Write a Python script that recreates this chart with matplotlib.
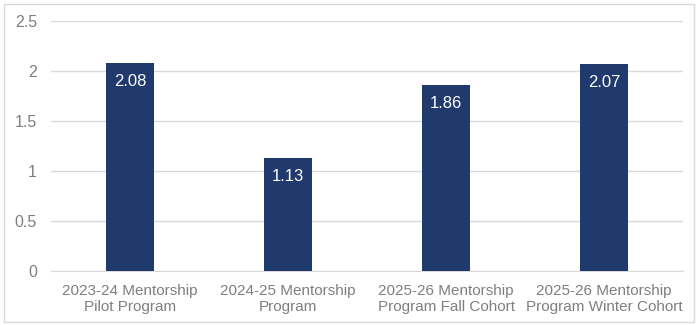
import matplotlib.pyplot as plt
from matplotlib.patches import Rectangle

categories = ["2023-24 Mentorship\nPilot Program",
              "2024-25 Mentorship\nProgram",
              "2025-26 Mentorship\nProgram Fall Cohort",
              "2025-26 Mentorship\nProgram Winter Cohort"]
values = [2.08, 1.13, 1.86, 2.07]
yticks = [0, 0.5, 1, 1.5, 2, 2.5]
ytick_labels = ["0", "0.5", "1", "1.5", "2", "2.5"]

plt.rcParams['font.family'] = ['Liberation Sans', 'DejaVu Sans']

fig = plt.figure(figsize=(6.99, 3.25), dpi=100)
ax = fig.add_axes([51 / 699, 54 / 325, 632 / 699, 250 / 325])

x = range(len(values))
bars = ax.bar(x, values, width=0.31, color="#213a6e", zorder=3)

for i, v in enumerate(values):
    ax.annotate(f"{v:.2f}", (i, v), xytext=(0, -13), textcoords="offset points",
                ha="center", va="center", color="white", fontsize=12, zorder=4)

ax.set_xlim(-0.5, len(values) - 0.5)
ax.set_ylim(0, 2.5)
ax.set_yticks(yticks)
ax.set_yticklabels(ytick_labels)
ax.set_xticks(list(x))
ax.set_xticklabels(categories, linespacing=1.25)
ax.tick_params(axis="both", length=0, labelsize=11, colors="#7f7f7f")
ax.tick_params(axis="y", labelsize=11.5, pad=10)
ax.tick_params(axis="x", pad=9)

ax.yaxis.grid(True, color="#d9d9d9", linewidth=1, zorder=0)
for s in ["top", "right", "left"]:
    ax.spines[s].set_visible(False)
ax.spines["bottom"].set_color("#d9d9d9")

fig.patches.append(Rectangle((4 / 699, 3 / 325), 690 / 699, 318 / 325,
                             transform=fig.transFigure, fill=False,
                             edgecolor="#d9d9d9", linewidth=1))

fig.savefig("out.png", dpi=100)
